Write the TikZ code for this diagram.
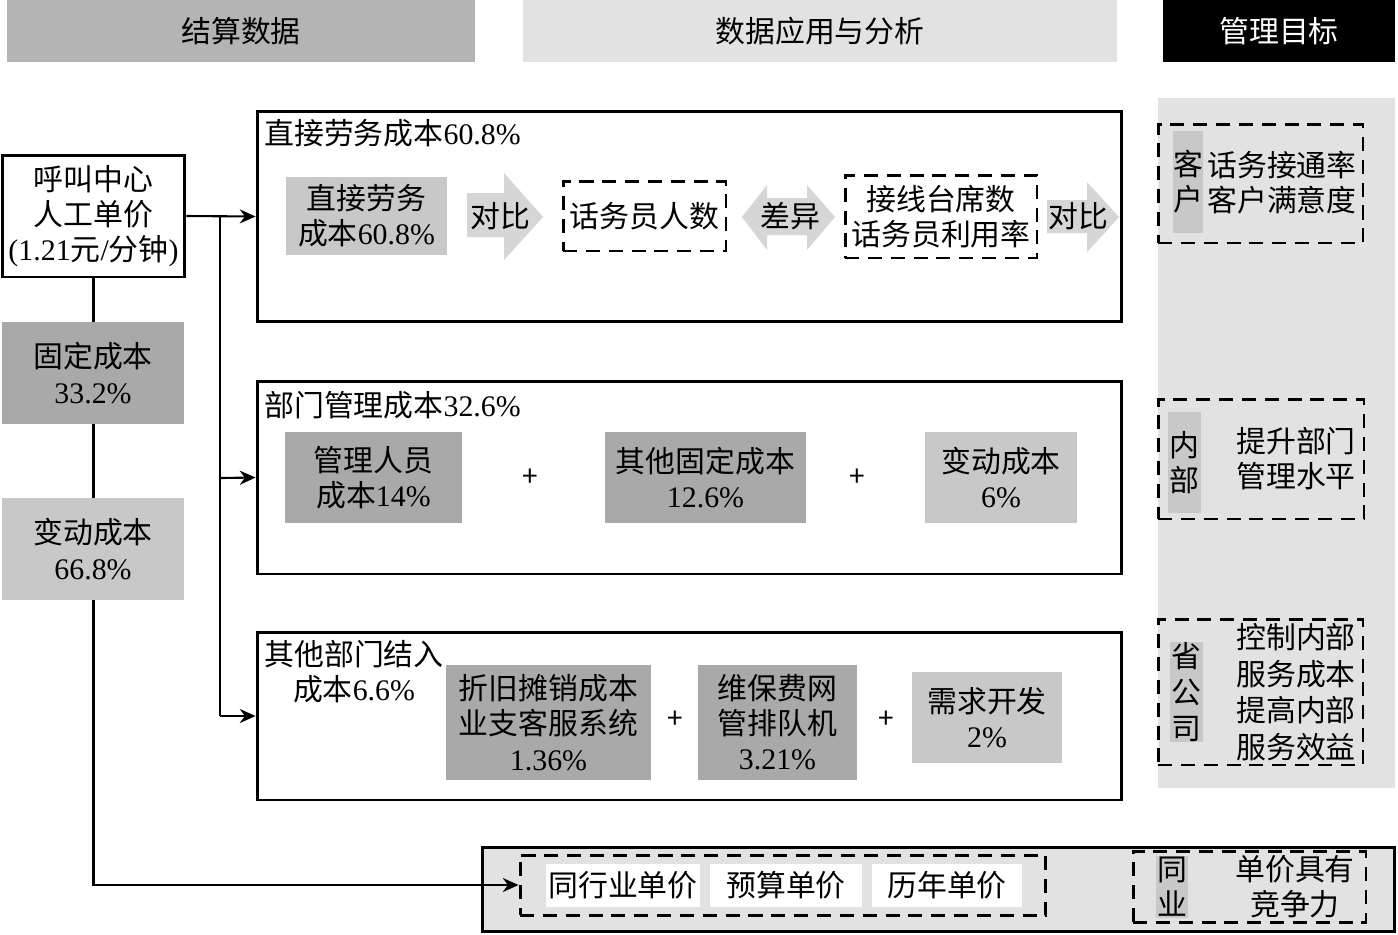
\documentclass[tikz,border=0pt]{standalone}
\usepackage{fontspec}
\setmainfont{Noto Sans CJK SC}
\newfontfamily\latfont{Liberation Serif}
\newcommand\latn[1]{{\latfont #1}}
\usetikzlibrary{arrows.meta}
\definecolor{gdark}{HTML}{A9A9A9}
\definecolor{gmid}{HTML}{C8C8C8}
\definecolor{ghead}{HTML}{B4B4B4}
\definecolor{glight}{HTML}{E2E2E2}
\definecolor{garrow}{HTML}{D6D6D6}
\begin{document}
\begin{tikzpicture}[x=0.02cm,y=-0.02cm,
  every node/.style={font=\fontsize{17}{20}\selectfont, inner sep=0pt, align=center},
  bigbox/.style={draw, line width=1.7pt, fill=white},
  fillbox/.style={fill=#1},
  dbox/.style={draw, line width=1.7pt, dash pattern=on 8pt off 5pt},
  conn/.style={line width=1.2pt},
  arr/.style={conn, -{Stealth[length=9pt,width=8pt]}},
  blockarrow/.style={fill=garrow, draw=none},
  plus/.style={font=\fontsize{16}{18}\selectfont}
]
\useasboundingbox (0,0) rectangle (1398,934);

% headers
\node[fillbox=ghead, minimum width=9.36cm, minimum height=1.24cm] (h1) at (241,31) {结算数据};
\node[fillbox=glight, minimum width=11.88cm, minimum height=1.24cm] (h2) at (820,31) {数据应用与分析};
\node[fillbox=black, text=white, minimum width=4.64cm, minimum height=1.24cm] (h3) at (1279,31) {管理目标};

% right panel background
\fill[glight] (1158,98) rectangle (1395,788);

% bottom box
\node[bigbox, fill=glight, minimum width=18.26cm, minimum height=1.68cm] (bb) at (938.5,889) {};
\node[dbox, minimum width=10.52cm, minimum height=1.2cm] (bd1) at (783,885) {};
\node[fillbox=white, minimum width=3.08cm, minimum height=0.86cm] (w1) at (623,885.5) {同行业单价};
\node[fillbox=white, minimum width=3.04cm, minimum height=0.86cm] (w2) at (786,885.5) {预算单价};
\node[fillbox=white, minimum width=3.0cm, minimum height=0.86cm] (w3) at (947,885.5) {历年单价};
\node[dbox, minimum width=4.66cm, minimum height=1.42cm] (bd2) at (1249.5,886.5) {};
\node[fillbox=gmid, minimum width=0.64cm, minimum height=1.24cm] (bs) at (1172,887) {同\\业};
\node (bt) at (1295,887) {单价具有\\竞争力};

% left column
\node[bigbox, minimum width=3.66cm, minimum height=2.44cm] (lb) at (93.5,216) {呼叫中心\\人工单价\\\latn{(1.21}元\latn{/}分钟\latn{)}};
\draw[arr] (lb.south) |- (bd1.west);
\node[fillbox=gdark, minimum width=3.64cm, minimum height=2.04cm] (fix) at (93,373) {固定成本\\\latn{33.2\%}};
\node[fillbox=gmid, minimum width=3.64cm, minimum height=2.04cm] (var) at (93,549) {变动成本\\\latn{66.8\%}};

% main boxes
\node[bigbox, minimum width=17.3cm, minimum height=4.22cm] (b1) at (689.5,216.5) {};
\node[bigbox, minimum width=17.3cm, minimum height=3.86cm] (b2) at (689.5,477.5) {};
\node[bigbox, minimum width=17.3cm, minimum height=3.36cm] (b3) at (689.5,716) {};

% connectors
\coordinate (j) at (220,216);
\draw[arr] (lb.east) -- (b1.west);
\draw[conn] (j) -- (220,716);
\draw[arr] (220,478) -- (b2.west);
\draw[arr] (220,716) -- (b3.west);

% box 1 content
\node[anchor=west] (t1) at (264,133) {直接劳务成本\latn{60.8\%}};
\node[fillbox=gmid, minimum width=3.22cm, minimum height=1.56cm] (g1) at (366.5,216) {直接劳务\\成本\latn{60.8\%}};
\fill[blockarrow] (467,193) -- (504,193) -- (504,173) -- (543,217) -- (504,260) -- (504,237) -- (467,237) -- cycle;
\node (a1) at (500,216) {对比};
\node[dbox, minimum width=3.26cm, minimum height=1.4cm] (d1) at (644.5,216) {话务员人数};
\fill[blockarrow] (742,217) -- (767,185) -- (767,198) -- (807,198) -- (807,185) -- (835,217) -- (807,250) -- (807,235) -- (767,235) -- (767,250) -- cycle;
\node (a2) at (790,216) {差异};
\node[dbox, minimum width=3.84cm, minimum height=1.66cm] (d2) at (941,216.5) {接线台席数\\话务员利用率};
\fill[blockarrow] (1047,200) -- (1087,200) -- (1087,182) -- (1119,217) -- (1087,252) -- (1087,233) -- (1047,233) -- cycle;
\node (a3) at (1078,216) {对比};

% box 2 content
\node[anchor=west] (t2) at (264,405) {部门管理成本\latn{32.6\%}};
\node[fillbox=gdark, minimum width=3.54cm, minimum height=1.82cm] (m1) at (373.5,477.5) {管理人员\\成本\latn{14\%}};
\node[plus] (p1) at (530,478) {+};
\node[fillbox=gdark, minimum width=4.02cm, minimum height=1.82cm] (m2) at (705.5,477.5) {其他固定成本\\\latn{12.6\%}};
\node[plus] (p2) at (857,478) {+};
\node[fillbox=gmid, minimum width=3.04cm, minimum height=1.82cm] (m3) at (1001,477.5) {变动成本\\\latn{6\%}};

% box 3 content
\node (t3) at (354,672) {其他部门结入\\成本\latn{6.6\%}};
\node[fillbox=gdark, minimum width=4.1cm, minimum height=2.3cm] (o1) at (548.5,722.5) {折旧摊销成本\\业支客服系统\\\latn{1.36\%}};
\node[plus] (p3) at (675,720) {+};
\node[fillbox=gdark, minimum width=3.18cm, minimum height=2.3cm] (o2) at (777.5,722.5) {维保费网\\管排队机\\\latn{3.21\%}};
\node[plus] (p4) at (886,720) {+};
\node[fillbox=gmid, minimum width=3.0cm, minimum height=1.82cm] (o3) at (987,717.5) {需求开发\\\latn{2\%}};

% right panel content
\node[dbox, minimum width=4.1cm, minimum height=2.38cm] (r1) at (1260.5,183.5) {};
\node[fillbox=gmid, minimum width=0.6cm, minimum height=2.04cm] (s1) at (1188,182) {客\\户};
\node (rt1) at (1282,183) {话务接通率\\客户满意度};
\node[dbox, minimum width=4.12cm, minimum height=2.4cm] (r2) at (1261,459) {};
\node[fillbox=gmid, minimum width=0.66cm, minimum height=2.02cm] (s2) at (1184.5,462.5) {内\\部};
\node (rt2) at (1296,459) {提升部门\\管理水平};
\node[dbox, minimum width=4.1cm, minimum height=2.92cm] (r3) at (1260.5,692) {};
\node[fillbox=gmid, minimum width=0.66cm, minimum height=2.0cm, font=\fontsize{17}{20.5}\selectfont] (s3) at (1186.5,692) {省\\公\\司};
\node[font=\fontsize{17}{20.8}\selectfont] (rt3) at (1296,692) {控制内部\\服务成本\\提高内部\\服务效益};
\end{tikzpicture}
\end{document}
